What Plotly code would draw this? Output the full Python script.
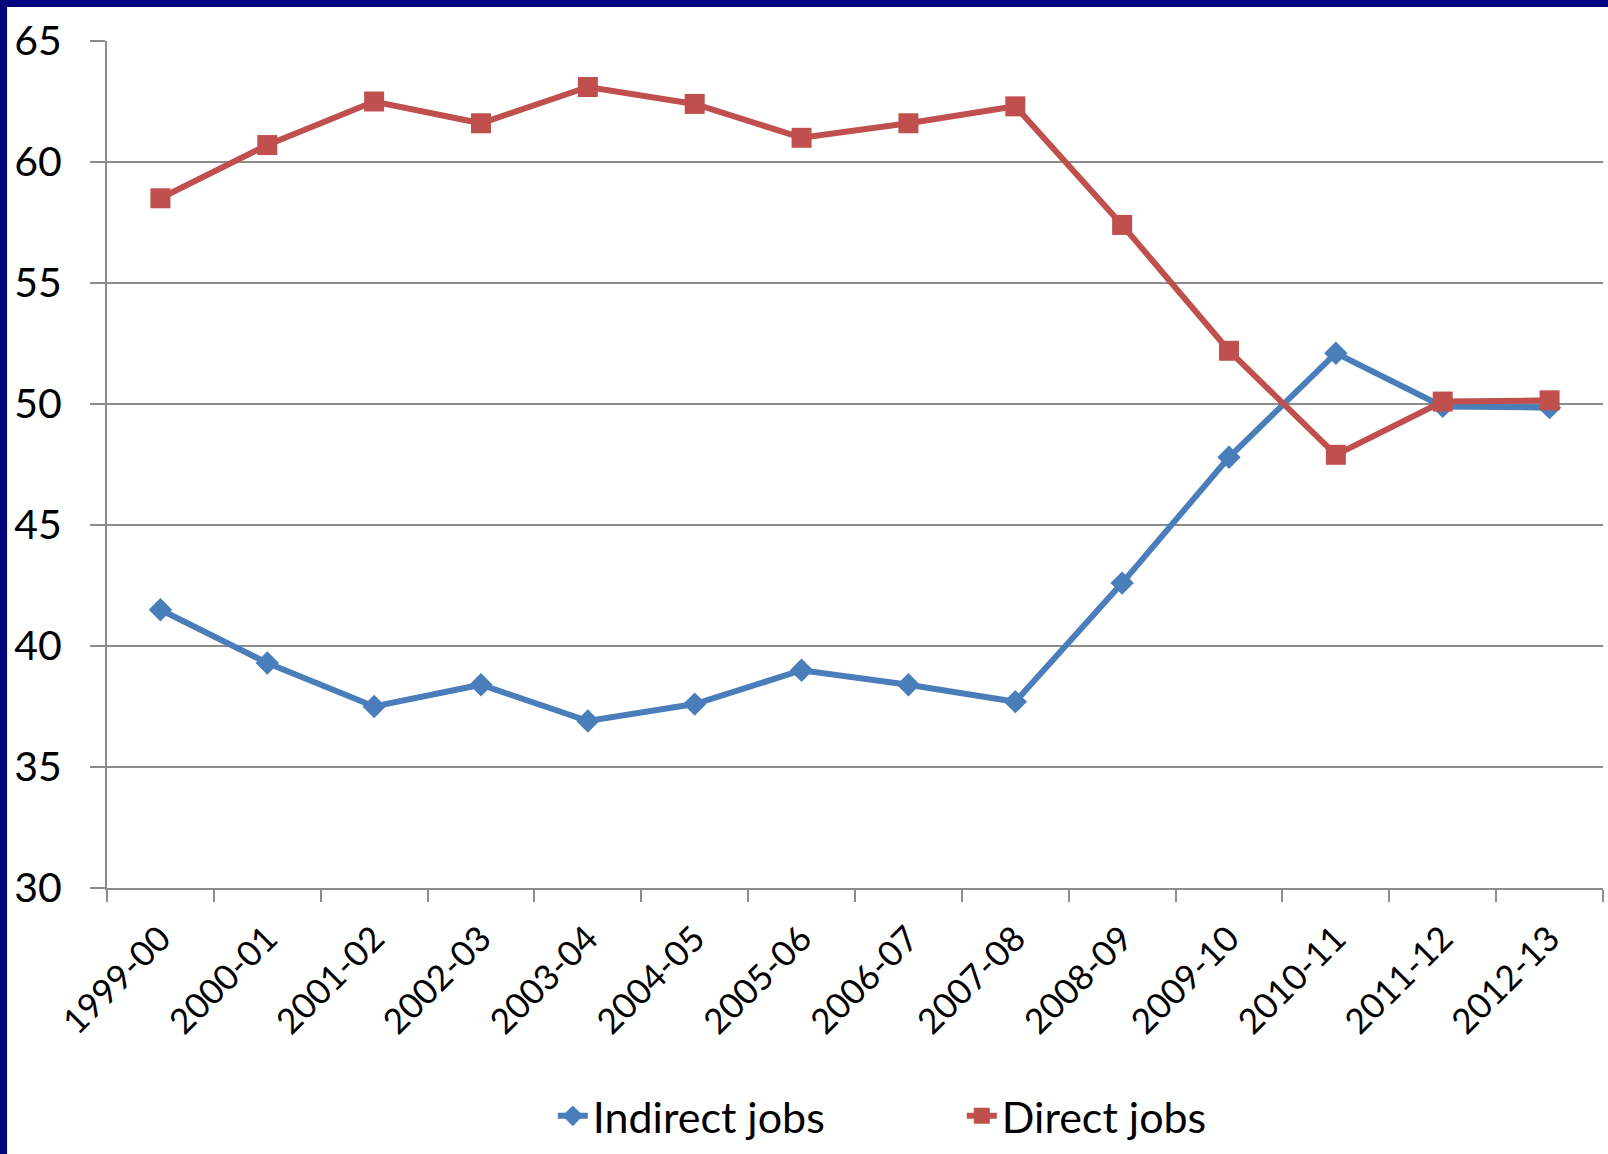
import plotly.graph_objects as go

# Share of jobs by year (%)
years = ["1999-00", "2000-01", "2001-02", "2002-03", "2003-04", "2004-05", "2005-06",
         "2006-07", "2007-08", "2008-09", "2009-10", "2010-11", "2011-12", "2012-13"]
indirect_jobs = [41.5, 39.3, 37.5, 38.4, 36.9, 37.6, 39.0, 38.4, 37.7, 42.6, 47.8, 52.1, 49.9, 49.85]
direct_jobs = [58.5, 60.7, 62.5, 61.6, 63.1, 62.4, 61.0, 61.6, 62.3, 57.4, 52.2, 47.9, 50.1, 50.15]
y_ticks = [30, 35, 40, 45, 50, 55, 60, 65]

BLUE = "#4a7ebb"
RED = "#c0504d"
GRID = "#8c8c8c"
FONT = "Lato"

fig = go.Figure()
fig.add_trace(go.Scatter(
    x=years, y=indirect_jobs, name="Indirect jobs", mode="lines+markers",
    line=dict(color=BLUE, width=6),
    marker=dict(symbol="diamond", size=18, color=BLUE),
))
fig.add_trace(go.Scatter(
    x=years, y=direct_jobs, name="Direct jobs", mode="lines+markers",
    line=dict(color=RED, width=6),
    marker=dict(symbol="square", size=20, color=RED),
))

# slide frame: navy edge along the top and left, white panel behind the chart
fig.add_shape(type="rect", xref="paper", yref="paper", layer="below",
              x0=-0.0668, x1=1.01, y0=-0.4, y1=1.0401,
              fillcolor="white", line=dict(width=0))

fig.update_layout(
    width=1608, height=1154,
    margin=dict(l=107, r=5, t=41, b=266, autoexpand=False),
    paper_bgcolor="#03037e",
    plot_bgcolor="white",
    font=dict(family=FONT, color="black"),
    showlegend=True,
    legend=dict(
        orientation="h", x=0.298, xanchor="left", y=-0.269, yanchor="middle",
        font=dict(size=43, family=FONT), entrywidth=364, itemwidth=30,
        bgcolor="rgba(0,0,0,0)",
    ),
    xaxis=dict(
        type="category", range=[-0.5, 13.5],
        showline=True, linecolor=GRID, linewidth=2,
        ticks="outside", ticklen=12, tickcolor=GRID, tickwidth=2,
        tickson="boundaries", tickangle=-45,
        tickfont=dict(size=35, family=FONT), ticklabelstandoff=14,
        showgrid=False, zeroline=False,
    ),
    yaxis=dict(
        range=[30, 65], tickvals=y_ticks,
        showline=True, linecolor=GRID, linewidth=2,
        ticks="outside", ticklen=15, tickcolor=GRID, tickwidth=2,
        tickfont=dict(size=41, family=FONT), ticklabelstandoff=20,
        showgrid=True, gridcolor=GRID, gridwidth=2, zeroline=False,
    ),
)

fig.write_html("out.html")
